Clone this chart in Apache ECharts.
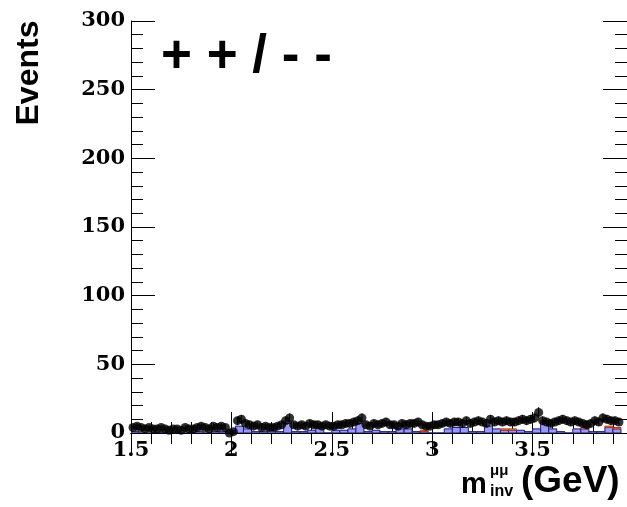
<!DOCTYPE html>
<html><head><meta charset="utf-8">
<script src="https://cdn.jsdelivr.net/npm/echarts@6/dist/echarts.min.js"></script>
<style>html,body{margin:0;padding:0;background:#fff;overflow:hidden;}#c{width:627px;height:507px;}</style>
</head><body><div id="c"></div>
<script>
// data binning
var dataBinStart = 1.50;
var dataBinWidth = 0.02;
// observed data (events per 0.02 GeV bin)
var dataCounts = [
  4,5,4,3,4,3,3,4,3,2,
  3,3,2,4,3,3,4,5,4,3,
  5,4,5,4,0,1,9,10,7,6,
  5,6,4,5,4,4,5,6,9,11,
  6,5,6,5,7,6,6,5,6,5,
  5,6,6,7,7,8,9,11,6,5,
  7,6,7,8,6,6,5,7,6,7,
  7,8,6,5,5,6,6,7,8,7,
  8,8,7,9,7,8,9,8,7,10,
  8,9,8,9,8,8,9,10,9,10,
  11,15,9,8,7,8,9,10,9,8,
  9,8,7,6,7,9,8,11,10,9,
  9,8
];
// MC binning
var mcBinStart = 1.50;
var mcBinWidth = 0.04;
// blue (main) MC component
var mcBlue = [1,0,0,0.5,0,0,0,0.5,1,0,1,1,2,5,3,1,1,2,1,7,1,1,2,4,0,2,2,3,7,1,2,1,1,3,3,1,1,0,0,3,4,4,1,1,5,3,2,2,2,1,3,8,3,1,0,3,3,1,1,4,3];
// salmon (second) MC component, stacked on blue
var mcRed = [0,0,0,0,0,0,0,0,0,0,0,0,0,0,0,0,0,0,0,0,0,0,0,0,0,0,0,0,0,0,0,0,0,0,0,0,1,0,0,0,0,0,0,0,0,0,1,1,0,0,0,1,0,0,0,0,1,0,0,1,1];
var xTicks = ['1.5','2','2.5','3','3.5'];
var yTicks = ['0','50','100','150','200','250','300'];

var blueRects = mcBlue.map(function(v,i){var lo=mcBinStart+i*mcBinWidth;return [lo,lo+mcBinWidth,0,v];});
var redRects = mcRed.map(function(v,i){var lo=mcBinStart+i*mcBinWidth;return [lo,lo+mcBinWidth,mcBlue[i],mcBlue[i]+v];}).filter(function(d){return d[3]>d[2];});
var points = dataCounts.map(function(v,i){return [dataBinStart+(i+0.5)*dataBinWidth,v];});
var errs = dataCounts.map(function(v,i){var e=Math.sqrt(v);return [dataBinStart+(i+0.5)*dataBinWidth,Math.max(0,v-e),v+e];});

function rectRender(fill, stroke){
  return function(params, api){
    var p0 = api.coord([api.value(0), api.value(2)]);
    var p1 = api.coord([api.value(1), api.value(3)]);
    return {type:'rect', shape:{x:p0[0], y:p1[1], width:p1[0]-p0[0], height:p0[1]-p1[1]},
      style:{fill:fill, stroke:stroke, lineWidth:1}};
  };
}
var chart = echarts.init(document.getElementById('c'), null, {renderer:'canvas'});
var lblFont = {fontFamily:'DejaVu Serif', fontWeight:'bold', fontSize:21, color:'#000'};
var axLine = {show:true, lineStyle:{color:'#000', width:1}};
var XMAX = 3.97;
chart.setOption({
  animation:false,
  backgroundColor:'#fff',
  grid:{left:131, top:21, width:503, height:412, containLabel:false},
  xAxis:[{
    type:'value', min:1.5, max:XMAX, interval:0.5, position:'bottom',
    axisLine:axLine, splitLine:{show:false},
    axisTick:{show:true, inside:true, length:21, lineStyle:{color:'#000'}},
    minorTick:{show:true, splitNumber:5, length:11, lineStyle:{color:'#000'}},
    axisLabel:Object.assign({margin:7, showMaxLabel:false, formatter:function(v){var s=String(+v.toFixed(1));return xTicks.indexOf(s)>=0?s:'';}}, lblFont)
  },{
    type:'value', min:1.5, max:XMAX, interval:0.5, position:'top',
    axisLine:axLine, splitLine:{show:false},
    axisTick:{show:true, inside:true, length:21, lineStyle:{color:'#000'}},
    minorTick:{show:true, splitNumber:5, length:11, lineStyle:{color:'#000'}},
    axisLabel:{show:false}
  }],
  yAxis:[{
    type:'value', min:0, max:300, interval:50, position:'left',
    axisLine:axLine, splitLine:{show:false},
    axisTick:{show:true, inside:true, length:24, lineStyle:{color:'#000'}},
    minorTick:{show:true, splitNumber:5, length:12, lineStyle:{color:'#000'}},
    axisLabel:Object.assign({margin:6, formatter:function(v){var s=String(v);return yTicks.indexOf(s)>=0?s:'';}}, lblFont)
  },{
    type:'value', min:0, max:300, interval:50, position:'right',
    axisLine:axLine, splitLine:{show:false},
    axisTick:{show:true, inside:true, length:24, lineStyle:{color:'#000'}},
    minorTick:{show:true, splitNumber:5, length:12, lineStyle:{color:'#000'}},
    axisLabel:{show:false}
  }],
  series:[
    {type:'custom', name:'mc1', xAxisIndex:0, yAxisIndex:0, clip:true, data:blueRects,
      encode:{x:[0,1], y:[2,3]}, renderItem:rectRender('#9a9af6','#1a1a80'), z:2},
    {type:'custom', name:'mc2', xAxisIndex:0, yAxisIndex:0, clip:true, data:redRects,
      encode:{x:[0,1], y:[2,3]}, renderItem:rectRender('#f7a58c','#b03010'), z:3},
    {type:'custom', name:'err', xAxisIndex:0, yAxisIndex:0, clip:true, data:errs,
      encode:{x:0, y:[1,2]}, z:4,
      renderItem:function(params, api){
        var a = api.coord([api.value(0), api.value(1)]);
        var b = api.coord([api.value(0), api.value(2)]);
        return {type:'line', shape:{x1:a[0], y1:a[1], x2:b[0], y2:b[1]}, style:{stroke:'#000', lineWidth:1}};
      }},
    {type:'scatter', name:'data', xAxisIndex:0, yAxisIndex:0, data:points, symbol:'circle', symbolSize:9,
      itemStyle:{color:'#000'}, z:5, clip:true}
  ],
  graphic:[
    {type:'text', left:161, top:31, style:{text:'+ + / - -', font:'bold 53px "Liberation Sans", Arial, sans-serif', fill:'#000'}},
    {type:'text', x:29, y:73, rotation:Math.PI/2, style:{text:'Events', font:'bold 32px "Liberation Sans", Arial, sans-serif', fill:'#000', textAlign:'center', textVerticalAlign:'middle'}},
    {type:'text', left:461, top:470, style:{text:'m', font:'bold 29px "Liberation Sans", Arial, sans-serif', fill:'#000'}},
    {type:'text', left:490, top:463, style:{text:'\u03bc\u03bc', font:'bold 15px "Liberation Sans", Arial, sans-serif', fill:'#000'}},
    {type:'text', left:490, top:484, style:{text:'inv', font:'bold 16px "Liberation Sans", Arial, sans-serif', fill:'#000'}},
    {type:'text', left:521, top:463, style:{text:'(GeV)', font:'bold 37px "Liberation Sans", Arial, sans-serif', fill:'#000'}}
  ]
});
</script></body></html>
